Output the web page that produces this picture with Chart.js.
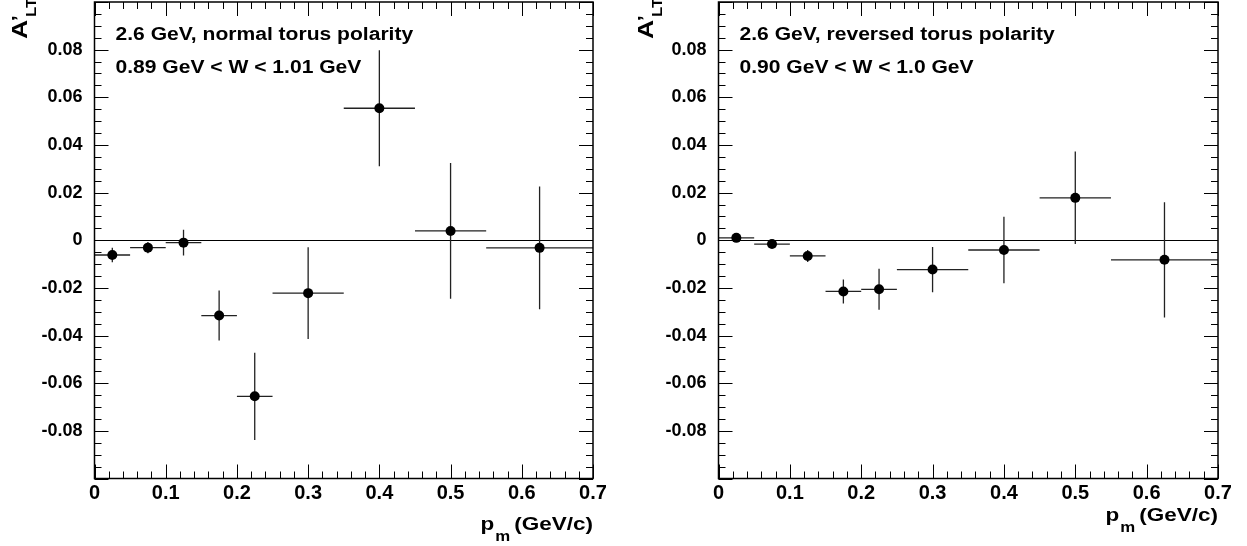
<!DOCTYPE html>
<html><head><meta charset="utf-8">
<script src="https://cdn.jsdelivr.net/npm/chart.js@4.4.1/dist/chart.umd.min.js"></script>
<style>
html,body{margin:0;padding:0;background:#fff;width:1247px;height:546px;overflow:hidden}
.w{position:absolute;top:0;height:546px}
canvas{display:block}
</style></head><body>
<div class="w" style="left:0;width:620px"><canvas id="c1" width="620" height="546"></canvas></div>
<div class="w" style="left:624px;width:623px"><canvas id="c2" width="623" height="546"></canvas></div>
<script>
// ---- data ----
const xCenters      = [0.025, 0.075, 0.125, 0.175, 0.225, 0.3, 0.4, 0.5, 0.625];
const xHalfWidths   = [0.025, 0.025, 0.025, 0.025, 0.025, 0.05, 0.05, 0.05, 0.075];
const normalValues  = [-0.0062, -0.0031, -0.0010, -0.0316, -0.0655, -0.0222, 0.0554, 0.0039, -0.0032];
const normalErrors  = [0.0030, 0.0024, 0.0054, 0.0105, 0.0183, 0.0193, 0.0243, 0.0285, 0.0258];
const reversedValues = [0.0010, -0.0016, -0.0066, -0.0215, -0.0206, -0.0123, -0.0041, 0.0178, -0.0082];
const reversedErrors = [0.0008, 0.0008, 0.0025, 0.0050, 0.0086, 0.0095, 0.0140, 0.0194, 0.0242];
const xTickValues = [0, 0.1, 0.2, 0.3, 0.4, 0.5, 0.6, 0.7];
const xTickLabels = ['0', '0.1', '0.2', '0.3', '0.4', '0.5', '0.6', '0.7'];
const yTickValues = [-0.08, -0.06, -0.04, -0.02, 0, 0.02, 0.04, 0.06, 0.08];
const yTickLabels = ['-0.08', '-0.06', '-0.04', '-0.02', '0', '0.02', '0.04', '0.06', '0.08'];
const normalNotes   = ['2.6 GeV, normal torus polarity', '0.89 GeV < W < 1.01 GeV'];
const reversedNotes = ['2.6 GeV, reversed torus polarity', '0.90 GeV < W < 1.0 GeV'];
const yTitle = ['A', '\u2019', 'LT'];
const xTitle = ['p', 'm', '(GeV/c)'];

const FONT = '"Liberation Sans", Arial, Helvetica, sans-serif';

function sText(ctx, text, x, y, size, sx, align) {
  ctx.save();
  ctx.font = 'bold ' + size + 'px ' + FONT;
  const w = ctx.measureText(text).width * sx;
  const x0 = align === 'right' ? x - w : x;
  ctx.translate(x0, y);
  ctx.scale(sx, 1);
  ctx.textAlign = 'left';
  ctx.textBaseline = 'alphabetic';
  ctx.fillStyle = '#000';
  ctx.fillText(text, 0, 0);
  ctx.restore();
  return w;
}
function sWidth(ctx, text, size, sx) {
  ctx.save(); ctx.font = 'bold ' + size + 'px ' + FONT;
  const w = ctx.measureText(text).width * sx; ctx.restore(); return w;
}

const rootPlugin = {
  id: 'rootStyle',
  beforeDatasetsDraw(chart) {
    const ctx = chart.ctx, xs = chart.scales.x, ys = chart.scales.y, a = chart.chartArea;
    const cfg = chart.options.plugins.rootStyle;
    ctx.save();
    ctx.strokeStyle = '#000'; ctx.lineWidth = 1.2;
    const y0 = Math.round(ys.getPixelForValue(0)) + 0.5;
    ctx.beginPath(); ctx.moveTo(a.left, y0); ctx.lineTo(a.right, y0); ctx.stroke();
    ctx.strokeStyle = '#222'; ctx.lineWidth = 1.3;
    cfg.values.forEach((v, i) => {
      const px = xs.getPixelForValue(xCenters[i]);
      const py = ys.getPixelForValue(v);
      ctx.beginPath();
      ctx.moveTo(xs.getPixelForValue(xCenters[i] - xHalfWidths[i]), py);
      ctx.lineTo(xs.getPixelForValue(xCenters[i] + xHalfWidths[i]), py);
      ctx.moveTo(px, ys.getPixelForValue(v + cfg.errors[i]));
      ctx.lineTo(px, ys.getPixelForValue(v - cfg.errors[i]));
      ctx.stroke();
    });
    ctx.restore();
  },
  afterDraw(chart) {
    const ctx = chart.ctx, xs = chart.scales.x, ys = chart.scales.y, a = chart.chartArea;
    const cfg = chart.options.plugins.rootStyle;
    ctx.save();
    ctx.strokeStyle = '#000';
    ctx.lineWidth = 1;
    const yMajorStep = yTickValues[1] - yTickValues[0];
    const yMinorStep = yMajorStep / 4;
    ctx.beginPath();
    for (let k = Math.ceil(ys.min / yMinorStep - 1e-6); k * yMinorStep <= ys.max + 1e-9; k++) {
      const v = k * yMinorStep;
      const isMajor = Math.abs(v / yMajorStep - Math.round(v / yMajorStep)) < 1e-6;
      const len = isMajor ? 14 : 7;
      const py = Math.round(ys.getPixelForValue(v)) + 0.5;
      ctx.moveTo(a.left, py); ctx.lineTo(a.left + len, py);
      ctx.moveTo(a.right, py); ctx.lineTo(a.right - len, py);
    }
    const xMajorStep = xTickValues[1] - xTickValues[0];
    const xMinorStep = xMajorStep / 5;
    for (let k = 0; k * xMinorStep <= xs.max + 1e-9; k++) {
      const v = k * xMinorStep;
      const isMajor = Math.abs(v / xMajorStep - Math.round(v / xMajorStep)) < 1e-6;
      const len = isMajor ? 14 : 7;
      const px = Math.round(xs.getPixelForValue(v)) + 0.5;
      ctx.moveTo(px, a.bottom); ctx.lineTo(px, a.bottom - len);
      ctx.moveTo(px, a.top); ctx.lineTo(px, a.top + len);
    }
    ctx.stroke();
    ctx.lineWidth = 1.5;
    ctx.strokeRect(a.left, a.top, a.right - a.left, a.bottom - a.top);
    ctx.restore();

    sText(ctx, cfg.notes[0], a.left + 21, 39.5, 18, 1.17);
    sText(ctx, cfg.notes[1], a.left + 21, 72.5, 18, 1.17);

    // y title (rotated)
    ctx.save();
    ctx.translate(a.left + cfg.yTitleOffset, 39);
    ctx.rotate(-Math.PI / 2);
    const wA = sText(ctx, yTitle[0], 0, 0, 22, 1.2);
    sText(ctx, yTitle[1], wA - 1, -2, 18, 1.1);
    sText(ctx, yTitle[2], wA + 3, 9, 14, 1.2);
    ctx.restore();

    // x title (right aligned to frame)
    const wMain = sWidth(ctx, xTitle[2], 18, 1.25);
    const wSub = sWidth(ctx, xTitle[1], 14, 1.2);
    const xr = a.right;
    const by = cfg.xTitleY;
    sText(ctx, xTitle[2], xr, by, 18, 1.25, 'right');
    sText(ctx, xTitle[1], xr - wMain - 4, by + 11, 14, 1.2, 'right');
    sText(ctx, xTitle[0], xr - wMain - 4 - wSub - 1, by, 18, 1.25, 'right');
  }
};

function makeChart(id, values, errors, notes, rightPad, xTitleY, yTitleOffset) {
  return new Chart(document.getElementById(id), {
    type: 'scatter',
    data: {
      datasets: [{
        data: xCenters.map((x, i) => ({ x: x, y: values[i] })),
        pointRadius: 5, pointHoverRadius: 5,
        pointBackgroundColor: '#000', pointBorderColor: '#000', pointBorderWidth: 0,
        showLine: false, clip: false
      }]
    },
    options: {
      responsive: false, animation: false, events: [],
      layout: { autoPadding: false, padding: { left: 0, right: rightPad, top: 2, bottom: 0 } },
      plugins: {
        legend: { display: false }, tooltip: { enabled: false }, title: { display: false },
        rootStyle: { values: values, errors: errors, notes: notes, xTitleY: xTitleY, yTitleOffset: yTitleOffset }
      },
      scales: {
        x: {
          type: 'linear', min: 0, max: 0.7,
          afterBuildTicks: s => { s.ticks = xTickValues.map(v => ({ value: v })); },
          afterFit: s => { s.height = 67.5; s.paddingLeft = 0; s.paddingRight = 0; },
          grid: { display: false, drawTicks: false },
          border: { display: false },
          ticks: {
            padding: 3, maxRotation: 0, autoSkip: false, color: '#000',
            font: { family: FONT, size: 20, weight: 'bold' },
            callback: (v, i) => xTickLabels[i]
          }
        },
        y: {
          type: 'linear', min: -0.1, max: 0.1,
          afterBuildTicks: s => { s.ticks = yTickValues.map(v => ({ value: v })); },
          afterFit: s => { s.width = 94.5; s.paddingTop = 0; s.paddingBottom = 0; },
          grid: { display: false, drawTicks: false },
          border: { display: false },
          ticks: {
            padding: 12, autoSkip: false, color: '#000',
            font: { family: FONT, size: 18, weight: 'bold' },
            callback: (v, i) => yTickLabels[i]
          }
        }
      }
    },
    plugins: [rootPlugin]
  });
}

makeChart('c1', normalValues, normalErrors, normalNotes, 27, 530, -68);
makeChart('c2', reversedValues, reversedErrors, reversedNotes, 29, 521, -66);
</script>
</body></html>
